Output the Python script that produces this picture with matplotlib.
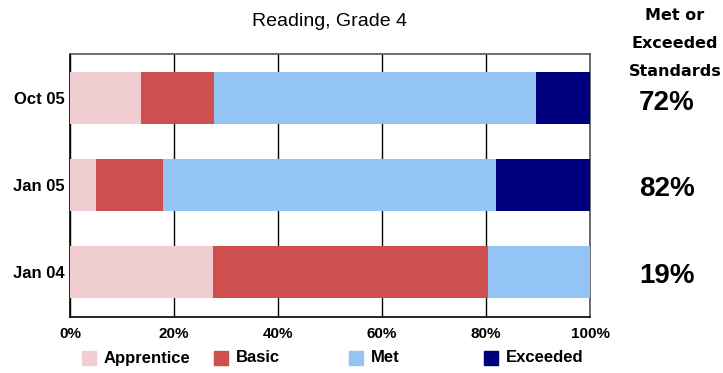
import matplotlib.pyplot as plt
import matplotlib.transforms as mtransforms
from matplotlib.patches import Rectangle
import numpy as np

# test dates, bottom to top
dates = ["Jan 04", "Jan 05", "Oct 05"]
levels = ["Apprentice", "Basic", "Met", "Exceeded"]
apprentice = [27.5, 5.0, 13.7]
basic = [52.8, 12.9, 13.9]
met = [19.7, 64.0, 62.0]
exceeded = [0.0, 18.1, 10.4]
met_or_exceeded = ["19%", "82%", "72%"]
colors = ["#EFCDD0", "#CF4F4F", "#94C4F4", "#00007F"]

fig = plt.figure(figsize=(7.23, 3.73), dpi=100)
ax = fig.add_axes([70 / 723, 1 - 317 / 373, 520 / 723, 263 / 373])

y = np.arange(len(dates))
left = np.zeros(len(dates))
for name, vals, col in zip(levels, [apprentice, basic, met, exceeded], colors):
    ax.barh(y, vals, left=left, height=0.6, color=col, zorder=3)
    left += np.array(vals)

ax.set_xlim(0, 100)
ax.set_ylim(-0.52, 2.51)
ax.set_xticks([0, 20, 40, 60, 80, 100])
ax.set_xticklabels([f"{v}%" for v in [0, 20, 40, 60, 80, 100]])
ax.set_yticks(y)
ax.set_yticklabels(dates)
ax.tick_params(length=0, labelsize=11)
ax.tick_params(axis="x", pad=7)
ax.tick_params(axis="y", pad=4, labelsize=12)
for lab in ax.get_xticklabels() + ax.get_yticklabels():
    lab.set_fontweight("bold")
    lab.set_family("Liberation Sans")
ax.xaxis.grid(True, color="black", linewidth=1.0, zorder=0)
ax.set_axisbelow(True)
for s in ["left", "bottom"]:
    ax.spines[s].set_color("black")
    ax.spines[s].set_linewidth(1.2)
for s in ["top", "right"]:
    ax.spines[s].set_color("#555555")
    ax.spines[s].set_linewidth(1.2)

fig.text(330 / 723, 1 - 22 / 373, "Reading, Grade 4", ha="center", va="center",
         fontsize=14, family="Liberation Sans")

# right side summary
for txt, ypx in [("Met or", 15), ("Exceeded", 43), ("Standards", 71)]:
    fig.text(675 / 723, 1 - ypx / 373, txt, ha="center", va="center",
             fontsize=11.5, fontweight="bold", family="DejaVu Sans")
trans = mtransforms.blended_transform_factory(fig.transFigure, ax.transData)
for yi, lab in zip(y, met_or_exceeded):
    ax.text(667 / 723, yi - 0.05, lab, transform=trans, ha="center", va="center",
            fontsize=20, fontweight="bold", family="Liberation Sans")

# legend row
patch_x = [82, 214, 349, 484]
for name, col, px in zip(levels, colors, patch_x):
    fig.add_artist(Rectangle((px / 723, 1 - 365 / 373), 14 / 723, 14 / 373,
                             transform=fig.transFigure, color=col))
    fig.text((px + 22) / 723, 1 - 358 / 373, name, ha="left", va="center",
             fontsize=12, fontweight="bold", family="Liberation Sans")

fig.savefig("out.png", dpi=100)
